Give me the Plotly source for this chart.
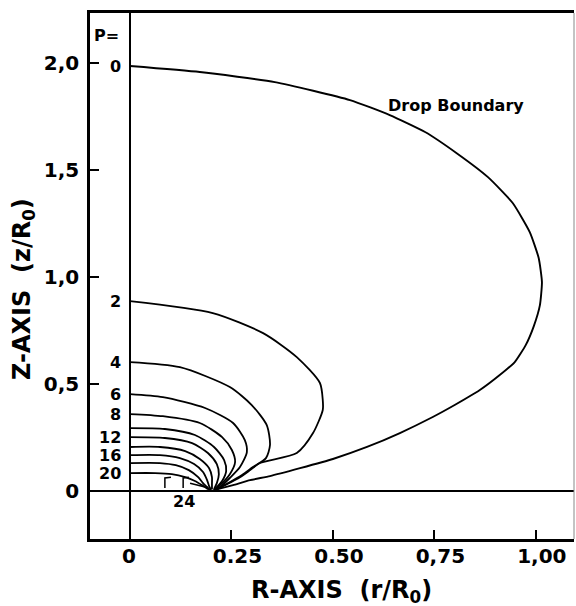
import plotly.graph_objects as go

# ---- data (r/R0, z/R0) ----
drop_r = [0, 0.172, 0.357, 0.542, 0.640, 0.727, 0.805, 0.882, 0.943, 0.985, 1.007, 1.015, 1.010,
          0.995, 0.975, 0.948, 0.911, 0.862, 0.800, 0.746, 0.665, 0.584, 0.500, 0.419, 0.345,
          0.296, 0.254, 0.204]
drop_z = [1.986, 1.958, 1.911, 1.827, 1.757, 1.678, 1.579, 1.467, 1.346, 1.210, 1.089, 0.977, 0.869,
          0.771, 0.682, 0.603, 0.542, 0.472, 0.402, 0.346, 0.271, 0.206, 0.150, 0.107, 0.070,
          0.051, 0.028, 0.003]

p2_r = [0, 0.204, 0.328, 0.411, 0.468, 0.475, 0.475, 0.451, 0.411, 0.320, 0.296, 0.271, 0.235, 0.212]
p2_z = [0.888, 0.832, 0.738, 0.626, 0.505, 0.425, 0.379, 0.271, 0.178, 0.131, 0.098, 0.065, 0.028, 0.006]

p4_r = [0, 0.123, 0.246, 0.300, 0.337, 0.345, 0.335, 0.303, 0.276, 0.240, 0.212]
p4_z = [0.603, 0.579, 0.486, 0.402, 0.308, 0.215, 0.154, 0.112, 0.075, 0.035, 0.006]

p6_r = [0, 0.081, 0.185, 0.254, 0.283, 0.288, 0.271, 0.246, 0.222, 0.209]
p6_z = [0.453, 0.439, 0.388, 0.318, 0.238, 0.182, 0.112, 0.061, 0.019, 0.005]

p8_r = [0, 0.081, 0.172, 0.227, 0.251, 0.259, 0.246, 0.222, 0.207]
p8_z = [0.360, 0.350, 0.318, 0.252, 0.192, 0.136, 0.079, 0.028, 0.005]

p10_r = [0, 0.086, 0.160, 0.207, 0.232, 0.237, 0.227, 0.209]
p10_z = [0.294, 0.290, 0.262, 0.206, 0.145, 0.093, 0.047, 0.009]

p12_r = [0, 0.086, 0.153, 0.192, 0.214, 0.219, 0.214, 0.207]
p12_z = [0.252, 0.248, 0.224, 0.178, 0.126, 0.079, 0.037, 0.009]

p14_r = [0, 0.074, 0.136, 0.172, 0.195, 0.202, 0.202, 0.202]
p14_z = [0.206, 0.206, 0.187, 0.150, 0.107, 0.065, 0.033, 0.009]

p16_r = [0, 0.074, 0.123, 0.158, 0.180, 0.190, 0.195, 0.200]
p16_z = [0.168, 0.168, 0.154, 0.126, 0.089, 0.051, 0.023, 0.005]

p18_r = [0, 0.074, 0.113, 0.145, 0.168, 0.180, 0.190, 0.197]
p18_z = [0.131, 0.131, 0.121, 0.098, 0.065, 0.037, 0.019, 0.005]

p20_r = [0, 0.062, 0.103, 0.136, 0.160, 0.177, 0.192]
p20_z = [0.084, 0.084, 0.079, 0.065, 0.047, 0.028, 0.009]

p22_r = [0.086, 0.086, 0.101, None, 0.131, 0.131, 0.145, None, 0.148, 0.170, 0.185, 0.197]
p22_z = [0.014, 0.061, 0.065, None, 0.014, 0.061, 0.065, None, 0.037, 0.028, 0.019, 0.006]

label_text = ["0", "2", "4", "6", "8", "12", "16", "20"]
label_z = [1.986, 0.888, 0.603, 0.453, 0.360, 0.252, 0.168, 0.084]

x_tickvals = [0, 0.25, 0.50, 0.75, 1.00]
x_ticktext = ["0\u00a0\u00a0", "0.25", "0.50", "0,75", "1,00"]
y_tickvals = [0, 0.5, 1.0, 1.5, 2.0]
y_ticktext = ["0", "0,5", "1,0", "1,5", "2,0"]

FONT = "DejaVu Sans"

fig = go.Figure()

fig.add_trace(go.Scatter(x=drop_r, y=drop_z, mode="lines",
                         line=dict(color="black", width=1.9, shape="spline", smoothing=0.5),
                         hoverinfo="skip", showlegend=False))

curves = [(p2_r, p2_z), (p4_r, p4_z), (p6_r, p6_z), (p8_r, p8_z),
          (p10_r, p10_z), (p12_r, p12_z), (p14_r, p14_z), (p16_r, p16_z),
          (p18_r, p18_z), (p20_r, p20_z)]
for r, z in curves:
    fig.add_trace(go.Scatter(x=r, y=z, mode="lines",
                             line=dict(color="black", width=1.8, shape="spline", smoothing=0.7),
                             hoverinfo="skip", showlegend=False))
fig.add_trace(go.Scatter(x=p22_r, y=p22_z, mode="lines",
                         line=dict(color="black", width=1.5),
                         hoverinfo="skip", showlegend=False))

# contour labels
for t, z in zip(label_text, label_z):
    fig.add_annotation(x=-0.017, y=z, text=f"<b>{t}</b>", showarrow=False,
                       xanchor="right", yanchor="middle",
                       font=dict(family=FONT, size=16, color="black"))
fig.add_annotation(x=-0.057, y=2.131, text="<b>P=</b>", showarrow=False,
                   xanchor="center", yanchor="middle",
                   font=dict(family=FONT, size=16, color="black"))
fig.add_annotation(x=0.133, y=-0.051, text="<b>24</b>", showarrow=False,
                   xanchor="center", yanchor="middle",
                   font=dict(family=FONT, size=16, color="black"))
fig.add_annotation(x=0.803, y=1.804, text="<b>Drop Boundary</b>", showarrow=False,
                   xanchor="center", yanchor="middle",
                   font=dict(family=FONT, size=16, color="black"))

# axis titles
fig.add_annotation(xref="paper", yref="paper", x=0.5186, y=-0.099,
                   text="<b>R-AXIS  (r/R<sub>0</sub>)</b>", showarrow=False,
                   xanchor="center", yanchor="middle",
                   font=dict(family=FONT, size=24, color="black"))
fig.add_annotation(xref="paper", yref="paper", x=-0.1364, y=0.4753,
                   text="<b>Z-AXIS  (z/R<sub>0</sub>)</b>", showarrow=False, textangle=-90,
                   xanchor="center", yanchor="middle",
                   font=dict(family=FONT, size=24, color="black"))

# thin right frame edge
fig.add_shape(type="line", xref="paper", yref="paper", x0=1, x1=1, y0=0, y1=1,
              line=dict(color="#888888", width=1))

fig.update_layout(
    width=576, height=606,
    margin=dict(l=90, r=2, t=13, b=67),
    paper_bgcolor="white", plot_bgcolor="white",
    showlegend=False,
    xaxis=dict(range=[-0.0985, 1.094], showgrid=False,
               zeroline=True, zerolinecolor="black", zerolinewidth=2,
               showline=True, linecolor="black", linewidth=2.5, mirror=True,
               ticks="inside", ticklen=9, tickwidth=2, tickcolor="black",
               tickvals=x_tickvals, ticktext=x_ticktext,
               ticklabelshift=6, ticklabelstandoff=-3,
               tickfont=dict(family=FONT, size=20, color="black", weight="bold")),
    yaxis=dict(range=[-0.224, 2.234], showgrid=False,
               zeroline=True, zerolinecolor="black", zerolinewidth=2,
               showline=True, linecolor="black", linewidth=2.5,
               ticks="inside", ticklen=9, tickwidth=2, tickcolor="black",
               tickvals=y_tickvals, ticktext=y_ticktext,
               ticklabelstandoff=4,
               tickfont=dict(family=FONT, size=20, color="black", weight="bold")),
)

fig.write_html("out.html")
